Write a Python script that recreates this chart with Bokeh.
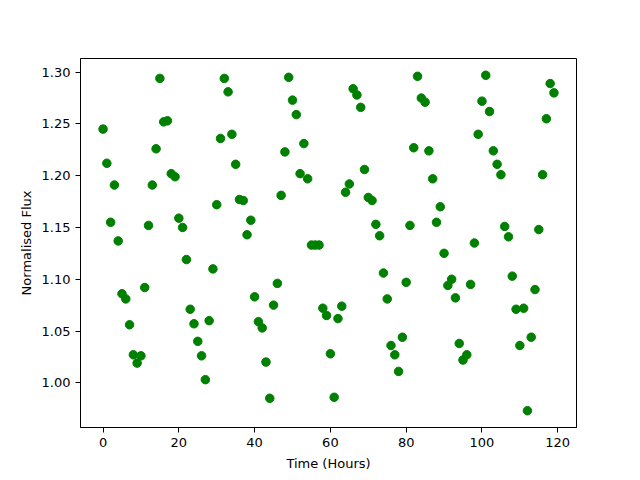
from bokeh.plotting import figure
from bokeh.models import Range1d, FixedTicker, NumeralTickFormatter, ColumnDataSource
from bokeh.embed import file_html
from bokeh.resources import INLINE

time_hours = [
    0, 1, 2, 3, 4, 5, 6, 7, 8, 9,
    10, 11, 12, 13, 14, 15, 16, 17, 18, 19,
    20, 21, 22, 23, 24, 25, 26, 27, 28, 29,
    30, 31, 32, 33, 34, 35, 36, 37, 38, 39,
    40, 41, 42, 43, 44, 45, 46, 47, 48, 49,
    50, 51, 52, 53, 54, 55, 56, 57, 58, 59,
    60, 61, 62, 63, 64, 65, 66, 67, 68, 69,
    70, 71, 72, 73, 74, 75, 76, 77, 78, 79,
    80, 81, 82, 83, 84, 85, 86, 87, 88, 89,
    90, 91, 92, 93, 94, 95, 96, 97, 98, 99,
    100, 101, 102, 103, 104, 105, 106, 107, 108, 109,
    110, 111, 112, 113, 114, 115, 116, 117, 118, 119,
]

normalised_flux = [
    1.245, 1.212, 1.155, 1.191, 1.137, 1.086, 1.081, 1.056, 1.027, 1.019,
    1.026, 1.092, 1.152, 1.191, 1.226, 1.294, 1.252, 1.253, 1.202, 1.199,
    1.159, 1.150, 1.119, 1.071, 1.057, 1.040, 1.026, 1.003, 1.060, 1.110,
    1.172, 1.236, 1.294, 1.281, 1.240, 1.211, 1.177, 1.176, 1.143, 1.157,
    1.083, 1.059, 1.053, 1.020, 0.985, 1.075, 1.096, 1.181, 1.223, 1.295,
    1.273, 1.259, 1.202, 1.231, 1.197, 1.133, 1.133, 1.133, 1.072, 1.065,
    1.028, 0.986, 1.062, 1.074, 1.184, 1.192, 1.284, 1.278, 1.266, 1.206,
    1.179, 1.176, 1.153, 1.142, 1.106, 1.081, 1.036, 1.027, 1.011, 1.044,
    1.097, 1.152, 1.227, 1.296, 1.275, 1.271, 1.224, 1.197, 1.155, 1.170,
    1.125, 1.094, 1.100, 1.082, 1.038, 1.022, 1.027, 1.095, 1.135, 1.240,
    1.272, 1.297, 1.262, 1.224, 1.211, 1.201, 1.151, 1.141, 1.103, 1.071,
    1.036, 1.072, 0.973, 1.044, 1.090, 1.148, 1.201, 1.255, 1.289, 1.280,
]

x_ticks = [0, 20, 40, 60, 80, 100, 120]
y_ticks = [1.00, 1.05, 1.10, 1.15, 1.20, 1.25, 1.30]

x_lo, x_hi = min(time_hours), max(time_hours)
y_lo, y_hi = min(normalised_flux), max(normalised_flux)
xm = (x_hi - x_lo) * 0.05
ym = (y_hi - y_lo) * 0.05

source = ColumnDataSource(data=dict(t=time_hours, f=normalised_flux))

p = figure(
    frame_width=496, frame_height=369,
    min_border_left=80, min_border_right=48,
    min_border_top=58, min_border_bottom=45,
    x_range=Range1d(x_lo - xm, x_hi + xm),
    y_range=Range1d(y_lo - ym, y_hi + ym),
    output_backend="svg", toolbar_location=None,
)

p.scatter("t", "f", source=source, size=8.5, color="#008000", line_color="#008000")

p.grid.visible = False
p.outline_line_color = "black"
p.outline_line_width = 1
p.outline_line_alpha = 1
p.background_fill_color = "white"
p.border_fill_color = "white"

p.xaxis.ticker = FixedTicker(ticks=x_ticks)
p.yaxis.ticker = FixedTicker(ticks=y_ticks)
p.yaxis.formatter = NumeralTickFormatter(format="0.00")

for ax in (p.xaxis[0], p.yaxis[0]):
    ax.axis_line_color = "black"
    ax.major_tick_line_color = "black"
    ax.major_tick_in = 0
    ax.major_tick_out = 5
    ax.minor_tick_line_color = None
    ax.major_label_text_font = "DejaVu Sans"
    ax.major_label_text_font_size = "13px"
    ax.major_label_text_color = "black"
    ax.axis_label_text_font = "DejaVu Sans"
    ax.axis_label_text_font_size = "13px"
    ax.axis_label_text_font_style = "normal"
    ax.axis_label_text_color = "black"
    ax.major_label_standoff = 5

p.xaxis.axis_label = "Time (Hours)"
p.yaxis.axis_label = "Normalised Flux"
p.xaxis.axis_label_standoff = 6
p.yaxis.axis_label_standoff = 5

open("out.html", "w").write(file_html(p, INLINE))
